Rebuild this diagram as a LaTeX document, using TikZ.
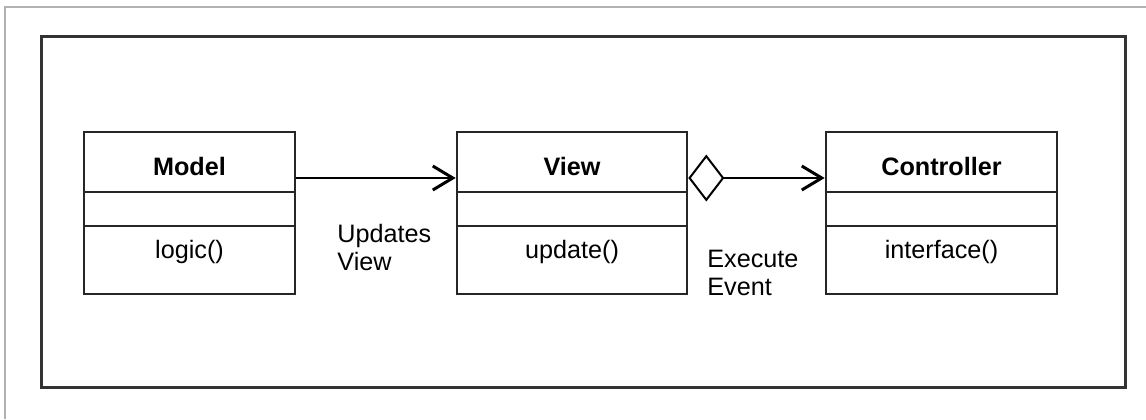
\documentclass[tikz,border=0pt]{standalone}
\usepackage{fontspec}
\setmainfont{Liberation Sans}
\usetikzlibrary{arrows.meta}
\begin{document}
\begin{tikzpicture}[x=0.5pt, y=-0.5pt,
  classbox/.style={draw=black!85, line width=1.3pt, minimum height=81pt, inner sep=0pt},
  sep/.style={draw=black!85, line width=1.3pt},
  title/.style={font=\fontsize{12.6}{15}\selectfont\bfseries, inner sep=0pt},
  meth/.style={font=\fontsize{12.6}{15}\selectfont, inner sep=0pt},
  lbl/.style={font=\fontsize{12.6}{14}\selectfont, align=left, anchor=north west, inner sep=0pt},
  assoc/.style={line width=1.3pt, -{Straight Barb[length=10pt,width=12pt,line width=1.5pt]}},
  aggr/.style={line width=1.3pt, {Diamond[open,length=18pt,width=23.5pt,line width=1pt]}-{Straight Barb[length=10pt,width=12pt,line width=1.5pt]}},
]
\useasboundingbox (0,0) rectangle (1146,419);
% frames
\draw[gray!60, line width=0.8pt] (5,419) -- (5,7) -- (1146,7);
\draw[black!80, line width=1.5pt] (41.5,36) rectangle (1125,387);
% model
\node[classbox, minimum width=105.5pt] (model) at (189.5,213) {};
\node[title] (mname) at (189.5,166) {Model};
\node[meth] (mop) at (189.5,252) {logic()};
\draw[sep] (model.west |- 0,192) -- (model.east |- 0,192);
\draw[sep] (model.west |- 0,226) -- (model.east |- 0,226);
% view
\node[classbox, minimum width=115pt] (view) at (572,213) {};
\node[title] (vname) at (572,166) {View};
\node[meth] (vop) at (572,252) {update()};
\draw[sep] (view.west |- 0,192) -- (view.east |- 0,192);
\draw[sep] (view.west |- 0,226) -- (view.east |- 0,226);
% controller
\node[classbox, minimum width=115.5pt] (ctrl) at (941.5,213) {};
\node[title] (cname) at (941.5,166) {Controller};
\node[meth] (cop) at (941.5,252) {interface()};
\draw[sep] (ctrl.west |- 0,192) -- (ctrl.east |- 0,192);
\draw[sep] (ctrl.west |- 0,226) -- (ctrl.east |- 0,226);
% links
\draw[assoc] ([yshift=17.5pt]model.east) -- ([yshift=17.5pt]view.west);
\draw[aggr] ([yshift=17.5pt]view.east) -- ([yshift=17.5pt]ctrl.west);
\node[lbl] (updlbl) at (337,224) {Updates\\View};
\node[lbl] (execlbl) at (707,250) {Execute\\Event};
\end{tikzpicture}
\end{document}
